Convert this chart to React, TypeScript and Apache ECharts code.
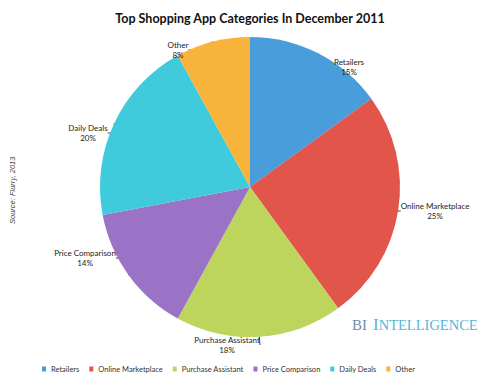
import React, { useEffect, useRef } from "react";
import * as echarts from "echarts";

const categories = ["Retailers", "Online Marketplace", "Purchase Assistant", "Price Comparison", "Daily Deals", "Other"];
const shares = [15, 25, 18, 14, 20, 8];
const colors = ["#4a9ddb", "#e1554a", "#bdd55c", "#9a72c6", "#3fcbdc", "#f8b43a"];
// label anchor points (centre of label text block)
const labelPos: [number, number][] = [
  [349, 67],
  [435, 211],
  [227, 345],
  [85, 258],
  [88, 133],
  [178, 50],
];

export default function App() {
  const ref = useRef<HTMLDivElement>(null);
  useEffect(() => {
    const chart = echarts.init(ref.current!, null, { renderer: "svg" });
    chart.setOption({
      animation: false,
      backgroundColor: "#ffffff",
      title: {
        text: "Top Shopping App Categories In December 2011",
        left: "center",
        top: 7,
        textStyle: { fontFamily: "Lato", fontWeight: "bold", fontSize: 12.5, color: "#111" },
      },
      legend: {
        top: 360,
        left: 37,
        icon: "rect",
        itemWidth: 4,
        itemHeight: 5,
        itemGap: 10,
        textStyle: { fontFamily: "Lato", fontSize: 7.5, color: "#333" },
        data: categories,
      },
      graphic: [
        {
          type: "text",
          x: 8,
          y: 224,
          rotation: Math.PI / 2,
          style: { text: "Source: Flurry, 2013", fontFamily: "Liberation Sans", fontStyle: "italic", fontSize: 7.5, fill: "#444" },
        },
        {
          type: "text",
          x: 352,
          y: 317,
          style: { text: "BI", fontFamily: "Liberation Serif", fontSize: 15, fill: "#6f8ea6" },
        },
        {
          type: "text",
          x: 373,
          y: 316,
          style: {
            text: "{a|I}{b|NTELLIGENCE}",
            rich: {
              a: { fontFamily: "Liberation Serif", fontSize: 17, fill: "#5ab6d6", color: "#5ab6d6" },
              b: { fontFamily: "Liberation Serif", fontSize: 14.5, fill: "#5ab6d6", color: "#5ab6d6" },
            },
          },
        },
      ],
      series: [
        {
          type: "pie",
          left: -200,
          right: -200,
          top: 0,
          bottom: 0,
          center: [450, 187],
          radius: 150,
          startAngle: 90,
          clockwise: true,
          itemStyle: { borderColor: "#ffffff", borderWidth: 0 },
          label: {
            show: true,
            position: "outside",
            formatter: "{b}\n{c}%",
            fontFamily: "Lato",
            fontSize: 8,
            lineHeight: 10,
            color: "#222",
            align: "center",
          },
          labelLine: { show: true, length: 6, length2: 10, lineStyle: { color: "#444", width: 1 } },
          labelLayout: (p: any) => {
            const pos = labelPos[p.dataIndex];
            return { x: pos[0], y: pos[1], align: "center", verticalAlign: "middle" };
          },
          data: categories.map((c, i) => ({ name: c, value: shares[i], itemStyle: { color: colors[i] } })),
        },
      ],
    });
    return () => chart.dispose();
  }, []);
  return <div ref={ref} style={{ width: 500, height: 374, position: "absolute", left: 0, top: 0 }} />;
}
